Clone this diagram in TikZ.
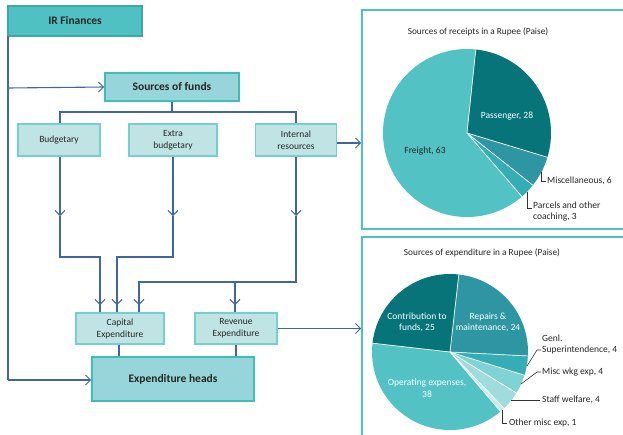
\documentclass[tikz,border=0pt]{standalone}
\usepackage{fontspec}
\setmainfont{Carlito}
\usetikzlibrary{arrows.meta}
\definecolor{linec}{HTML}{3F68A0}
\definecolor{irfill}{HTML}{4FC1C3}
\definecolor{irbord}{HTML}{3AA9A8}
\definecolor{midfill}{HTML}{96D5D9}
\definecolor{midbord}{HTML}{3FBDB9}
\definecolor{lightfill}{HTML}{C0E4E4}
\definecolor{lightbord}{HTML}{74D0CE}
\definecolor{panelc}{HTML}{4FC1C3}
\definecolor{txt}{HTML}{262626}
\definecolor{pA}{HTML}{067479}
\definecolor{pB}{HTML}{2E95A3}
\definecolor{pC}{HTML}{35ADB5}
\definecolor{pD}{HTML}{52C2C5}
\definecolor{pE}{HTML}{7FD3D4}
\definecolor{pF}{HTML}{9EDCDE}
\definecolor{pG}{HTML}{C8EDED}
\tikzset{
  conn/.style={draw=linec, line width=1.1pt},
  tip/.style={-{Straight Barb[length=5pt,width=10pt,line width=0.9pt]}},
  bigbox/.style={draw=midbord, fill=midfill, line width=1.8pt, text=txt, font=\bfseries\fontsize{11.5}{13}\selectfont, inner sep=0pt},
  topbox/.style={draw=irbord, fill=irfill, line width=1.8pt, text=txt, font=\bfseries\fontsize{11.5}{13}\selectfont, inner sep=0pt},
  smallbox/.style={draw=lightbord, fill=lightfill, line width=1.2pt, text=txt, font=\fontsize{9.5}{12}\selectfont, align=center, inner sep=0pt},
  panel/.style={draw=panelc, line width=1.8pt, fill=white, inner sep=0pt},
  ptitle/.style={text=txt, font=\fontsize{9.3}{11}\selectfont, inner sep=0pt},
  plab/.style={text=txt, font=\fontsize{9.5}{11.5}\selectfont, inner sep=0pt, align=left},
  wlab/.style={text=white, font=\fontsize{9.5}{11.5}\selectfont, inner sep=0pt, align=center},
  dlab/.style={text=txt, font=\fontsize{9.5}{11.5}\selectfont, inner sep=0pt, align=center},
  leader/.style={draw=black!80, line width=0.6pt},
  sep/.style={draw=white, line width=0.7pt}
}
\begin{document}
\begin{tikzpicture}[x=1pt,y=-1pt]
\clip (0,0) rectangle (623,434);
\fill[white] (0,0) rectangle (623,434);

% boxes
\node[topbox, minimum width=134pt, minimum height=30pt] (irf) at (75,21) {IR Finances};
\node[bigbox, minimum width=134pt, minimum height=28pt] (sof) at (172,87) {Sources of funds};
\node[smallbox, minimum width=82pt, minimum height=32pt] (bud) at (59,140) {Budgetary};
\node[smallbox, minimum width=88pt, minimum height=32pt] (ext) at (173,140) {Extra\\budgetary};
\node[smallbox, minimum width=81pt, minimum height=32pt] (int) at (296,140) {Internal\\resources};
\node[smallbox, minimum width=88pt, minimum height=31pt] (cap) at (120,328.5) {Capital\\Expenditure};
\node[smallbox, minimum width=82pt, minimum height=31pt] (rev) at (236,328.5) {Revenue\\Expenditure};
\node[bigbox, minimum width=162pt, minimum height=44pt] (exh) at (173,379) {Expenditure heads};

% panels
\node[panel, minimum width=278pt, minimum height=219pt] (rp1) at (501,119.5) {};
\node[panel, minimum width=278pt, minimum height=219pt] (rp2) at (501,346.5) {};

% coordinates
\coordinate (lt) at (8,36);
\coordinate (lsof) at (8,88);
\coordinate (lexh) at (8,380);
\coordinate (h) at (173,112);
\coordinate (m1) at (60,216);
\coordinate (m2) at (173,216);
\coordinate (m3) at (296,216);
\coordinate (b1) at (60,257);
\coordinate (b2) at (100,257);
\coordinate (e1) at (173,257);
\coordinate (e2) at (117,257);
\coordinate (i1) at (296,282);
\coordinate (i2) at (139,282);
\coordinate (i3) at (235,282);
\coordinate (a1) at (100,305);
\coordinate (a2) at (117,305);
\coordinate (a3) at (139,305);
\coordinate (a4) at (235,305);

% connectors
\draw[conn] (lt) -- (lexh);
\draw[conn,tip] (lsof) -- (sof.west);
\draw[conn,tip] (lexh) -- (exh.west |- lexh);
\draw[conn] (sof.south) -- (sof.south |- h);
\draw[conn] (bud.north -| m1) -- (m1 |- h) -- (m3 |- h) -- (int.north -| m3);
\draw[conn,tip] (bud.south -| m1) -- (m1);
\draw[conn,tip] (ext.south -| m2) -- (m2);
\draw[conn,tip] (int.south -| m3) -- (m3);
\draw[conn] (m1) -- (b1) -- (b2) -- (a1);
\draw[conn] (m2) -- (e1) -- (e2) -- (a2);
\draw[conn] (m3) -- (i1) -- (i2) -- (a3);
\draw[conn] (i3) -- (a4);
\draw[conn,tip] (b2) -- (a1);
\draw[conn,tip] (e2) -- (a2);
\draw[conn,tip] (i2) -- (a3);
\draw[conn,tip] (i3) -- (a4);
\draw[conn] (a1) -- (a1 |- cap.north);
\draw[conn] (a2) -- (a2 |- cap.north);
\draw[conn] (a3) -- (a3 |- cap.north);
\draw[conn] (a4) -- (a4 |- rev.north);
\draw[conn] (cap.south -| 119,0) -- (exh.north -| 119,0);
\draw[conn] (rev.south) -- (rev.south |- exh.north);
\draw[conn,tip] (int.east |- 0,143) -- (rp1.west |- 0,143);
\draw[conn,tip] (rev.east) -- (rev.east -| rp2.west);

% top pie
\node[ptitle] (t1) at (478,32) {Sources of receipts in a Rupee (Paise)};
\begin{scope}[shift={(467,133)}, yscale=-1]
  \fill[pA] (0,0) -- (84:84) arc (84:-16.8:84) -- cycle;
  \fill[pB] (0,0) -- (-16.8:84) arc (-16.8:-38.4:84) -- cycle;
  \fill[pC] (0,0) -- (-38.4:84) arc (-38.4:-49.2:84) -- cycle;
  \fill[pD] (0,0) -- (-49.2:84) arc (-49.2:-276:84) -- cycle;
  \foreach \a in {84,-16.8,-38.4,-49.2} \draw[sep] (0,0) -- (\a:84);
\end{scope}
\node[wlab] (pas) at (507,116) {Passenger, 28};
\node[dlab] (fre) at (425,151) {Freight, 63};
\draw[leader] (541,172) -- (541,181) -- (546,181);
\node[plab, anchor=west] (mis) at (547,181) {Miscellaneous, 6};
\draw[leader] (527,192) -- (527,208) -- (532,208);
\node[plab, anchor=north west] (par) at (533,201.5) {Parcels and other\\coaching, 3};

% bottom pie
\node[ptitle] (t2) at (482,253) {Sources of expenditure in a Rupee (Paise)};
\begin{scope}[shift={(450,352)}, yscale=-1]
  \fill[pB] (0,0) -- (83.5:78) arc (83.5:-2.9:78) -- cycle;
  \fill[pC] (0,0) -- (-2.9:78) arc (-2.9:-17.3:78) -- cycle;
  \fill[pE] (0,0) -- (-17.3:78) arc (-17.3:-31.7:78) -- cycle;
  \fill[pF] (0,0) -- (-31.7:78) arc (-31.7:-46.1:78) -- cycle;
  \fill[pG] (0,0) -- (-46.1:78) arc (-46.1:-49.7:78) -- cycle;
  \fill[pD] (0,0) -- (-49.7:78) arc (-49.7:-186.5:78) -- cycle;
  \fill[pA] (0,0) -- (-186.5:78) arc (-186.5:-276.5:78) -- cycle;
  \foreach \a in {83.5,-2.9,-17.3,-31.7,-46.1,-49.7,-186.5} \draw[sep] (0,0) -- (\a:78);
\end{scope}
\node[wlab] (con) at (417,322.5) {Contribution to\\funds, 25};
\node[wlab] (rep) at (488,322.5) {Repairs \&\\maintenance, 24};
\node[wlab] (ope) at (427,388) {Operating expenses,\\38};
\draw[leader] (527,366) -- (537,350) -- (541,350);
\node[plab, anchor=west] (gen) at (542,344.5) {Genl.\\Superintendence, 4};
\draw[leader] (521,384) -- (537,372) -- (541,372);
\node[plab, anchor=west] (mwe) at (542,372) {Misc wkg exp, 4};
\draw[leader] (511,400) -- (540,400);
\node[plab, anchor=west] (stf) at (542,400) {Staff welfare, 4};
\draw[leader] (502,410) -- (502,423) -- (507,423);
\node[plab, anchor=west] (oth) at (509,423) {Other misc exp, 1};
\end{tikzpicture}
\end{document}
